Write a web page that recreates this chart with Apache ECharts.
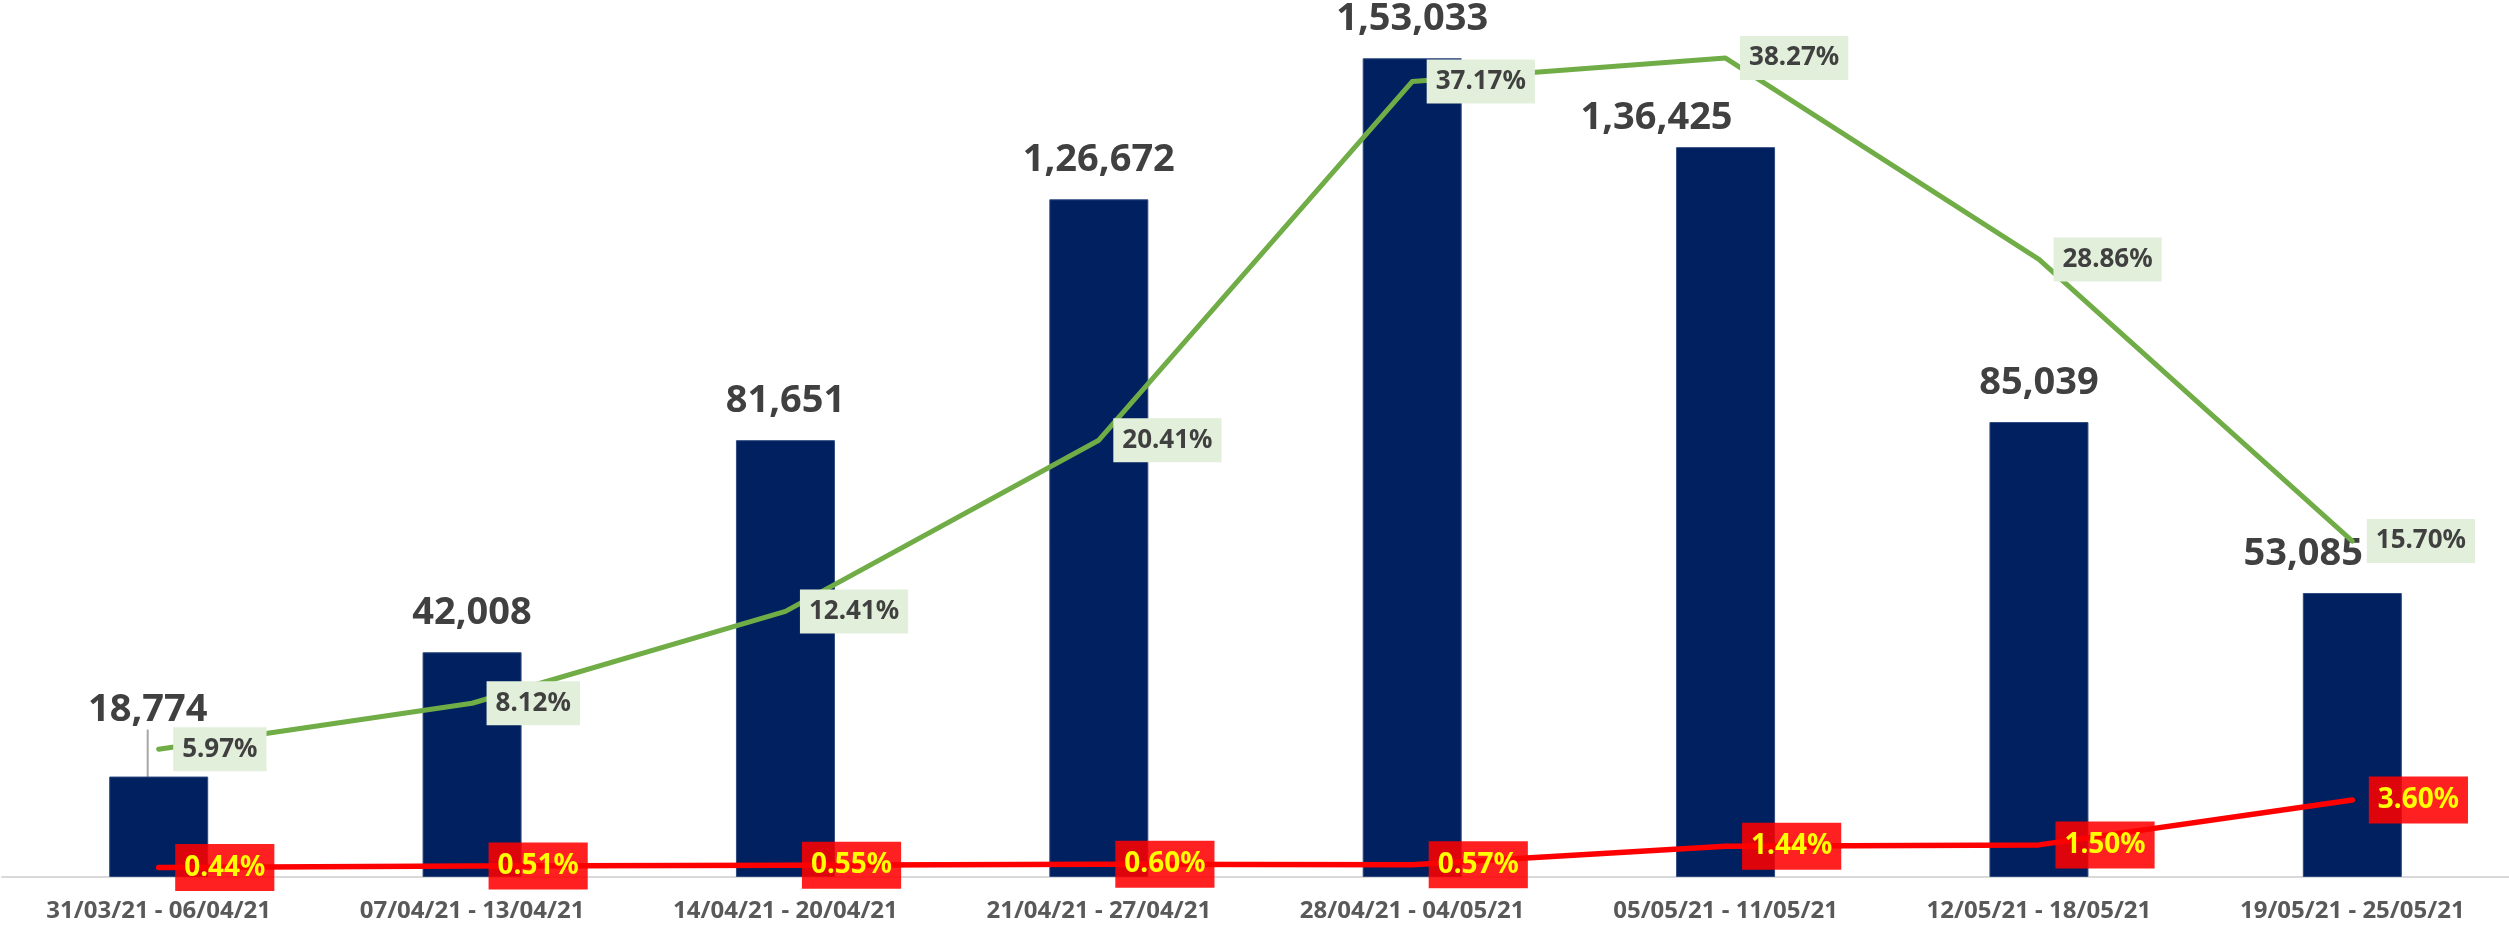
<!DOCTYPE html>
<html>
<head>
<meta charset="utf-8">
<script src="https://cdn.jsdelivr.net/npm/echarts@6/dist/echarts.min.js"></script>
<style>html,body{margin:0;padding:0;background:#fff}#c{width:2509px;height:930px}</style>
</head>
<body>
<div id="c"></div>
<script>
const categories = ['31/03/21 - 06/04/21','07/04/21 - 13/04/21','14/04/21 - 20/04/21','21/04/21 - 27/04/21','28/04/21 - 04/05/21','05/05/21 - 11/05/21','12/05/21 - 18/05/21','19/05/21 - 25/05/21'];
const barValues = [18774, 42008, 81651, 126672, 153033, 136425, 85039, 53085];
const greenPct = [5.97, 8.12, 12.41, 20.41, 37.17, 38.27, 28.86, 15.70];
const redPct = [0.44, 0.51, 0.55, 0.60, 0.57, 1.44, 1.50, 3.60];

function indian(n){
  const s = String(Math.round(n));
  if (s.length <= 3) return s;
  const last3 = s.slice(-3);
  let rest = s.slice(0, -3);
  const parts = [];
  while (rest.length > 2) { parts.unshift(rest.slice(-2)); rest = rest.slice(0, -2); }
  if (rest.length) parts.unshift(rest);
  return parts.join(',') + ',' + last3;
}

const FONT = '"Noto Sans", "Open Sans", sans-serif';
const barData = barValues.map((v, i) => i === 0
  ? { value: v, labelLine: { show: true, lineStyle: { color: '#A6A6A6', width: 2 } } }
  : { value: v });
const labelShift = { 0: { dx: -11, dy: -27 }, 5: { dx: -69, dy: 10 }, 7: { dx: -49, dy: 0 } };

const chart = echarts.init(document.getElementById('c'));
chart.setOption({
  animation: false,
  backgroundColor: '#ffffff',
  grid: { left: 2, right: -16, top: 21, bottom: 53, containLabel: false },
  xAxis: {
    type: 'category',
    data: categories,
    boundaryGap: true,
    axisLine: { show: true, lineStyle: { color: '#D9D9D9', width: 2 } },
    axisTick: { show: false },
    axisLabel: { color: '#595959', fontFamily: FONT, fontWeight: 'bold', fontSize: 24, margin: 22, interval: 0 }
  },
  yAxis: [
    { type: 'value', min: 0, max: 160000, show: false, splitLine: { show: false } },
    { type: 'value', min: 0, max: 40, show: false, splitLine: { show: false } }
  ],
  series: [
    {
      type: 'bar',
      data: barData,
      barWidth: 99,
      itemStyle: { color: '#002060', borderColor: '#2F4A80', borderWidth: 1 },
      label: {
        show: true, position: 'top', distance: 20,
        color: '#404040', fontFamily: FONT, fontWeight: 'bold', fontSize: 38,
        formatter: p => indian(p.value)
      },
      labelLine: { show: false },
      labelLayout: function (params) {
        return labelShift[params.dataIndex] || {};
      }
    },
    {
      type: 'line',
      yAxisIndex: 1,
      data: greenPct,
      symbol: 'circle',
      symbolSize: 1,
      showSymbol: true,
      itemStyle: { color: 'rgba(0,0,0,0)' },
      lineStyle: { color: '#70AD47', width: 5, cap: 'round', join: 'round' },
      label: {
        show: true, position: 'right', distance: 14,
        color: '#404040', fontFamily: FONT, fontWeight: 'bold', fontSize: 26, lineHeight: 30,
        backgroundColor: '#E2EFDA', padding: [7, 9, 7, 9],
        formatter: p => p.value.toFixed(2) + '%'
      },
      z: 3
    },
    {
      type: 'line',
      yAxisIndex: 1,
      data: redPct,
      symbol: 'circle',
      symbolSize: 1,
      showSymbol: true,
      itemStyle: { color: 'rgba(0,0,0,0)' },
      lineStyle: { color: '#FF0000', width: 5.5, cap: 'round', join: 'round' },
      label: {
        show: true, position: 'right', distance: 16,
        color: '#FFFF00', fontFamily: FONT, fontWeight: 'bold', fontSize: 28, lineHeight: 31,
        backgroundColor: 'rgba(255,0,0,0.87)', padding: [8, 9, 8, 9],
        formatter: p => p.value.toFixed(2) + '%'
      },
      z: 4
    }
  ]
});
</script>
</body>
</html>
